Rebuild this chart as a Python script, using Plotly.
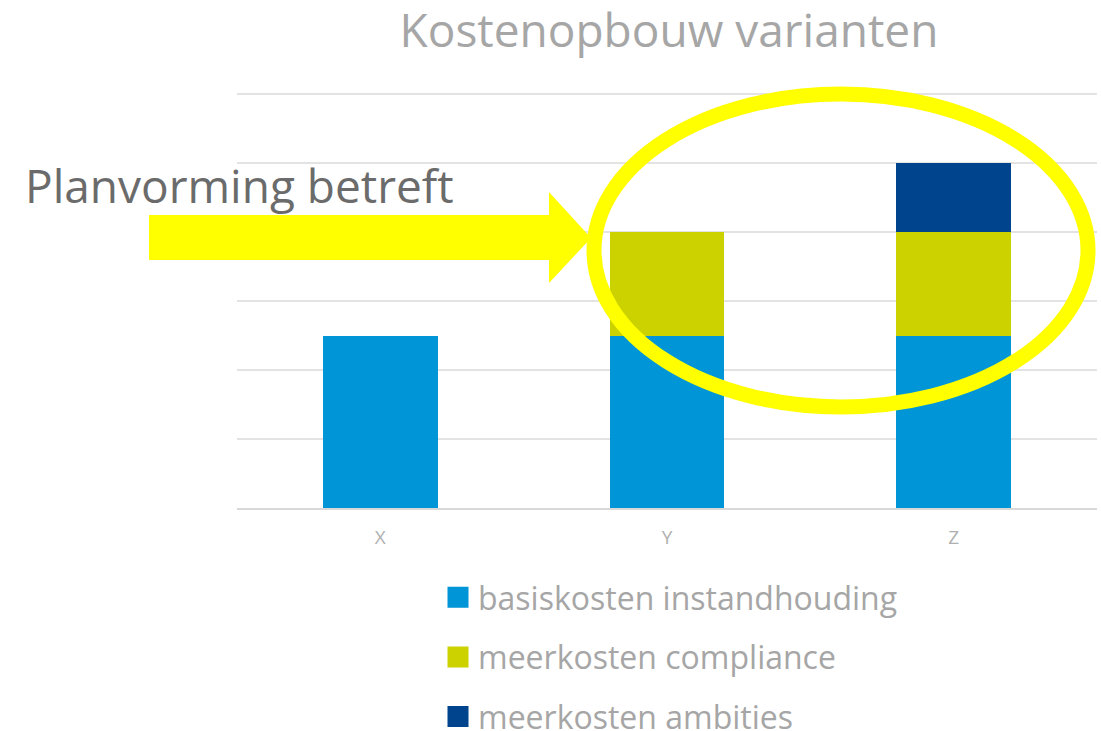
import plotly.graph_objects as go

categories = ["X", "Y", "Z"]
series_names = ["basiskosten instandhouding", "meerkosten compliance", "meerkosten ambities"]
basis = [2.5, 2.5, 2.5]
compliance = [None, 1.5, 1.5]
ambities = [None, None, 1.0]
series_values = [basis, compliance, ambities]
colors = ["#0095d6", "#ccd200", "#00448e"]

title_text = "Kostenopbouw varianten"
note_text = "Planvorming betreft"

W, H = 1101, 731
L, R, T, B = 237, 4, 90, 223
PW, PH = W - L - R, H - T - B
YMAX = 6 * PH / (H - B - 94)


def px(x):
    return (x - L) / PW


def py(y):
    return (H - B - y) / PH


fig = go.Figure()
for name, vals, col in zip(series_names, series_values, colors):
    fig.add_trace(go.Bar(x=categories, y=vals, name=name, marker_color=col,
                         marker_line_width=0, showlegend=False))
# legend entries
for name, col in zip(series_names, colors):
    fig.add_trace(go.Scatter(x=[None], y=[None], mode="markers", name=name, legendgroup=name,
                             marker=dict(symbol="square", size=16, color=col,
                                         line=dict(color=col, width=5))))

# arrow
pts = [(149, 215), (549, 215), (549, 192), (591, 238), (549, 283), (549, 260), (149, 260)]
path = "M " + " L ".join(f"{px(x):.5f},{py(y):.5f}" for x, y in pts) + " Z"
fig.add_shape(type="path", path=path, xref="paper", yref="paper",
              fillcolor="#ffff00", line=dict(width=0), layer="above")
# ellipse
fig.add_shape(type="circle", xref="paper", yref="paper",
              x0=px(594), x1=px(1088), y0=py(407), y1=py(94),
              line=dict(color="#ffff00", width=15), layer="above")

fig.add_annotation(text=note_text, xref="paper", yref="paper", x=px(23), y=py(185),
                   xanchor="left", yanchor="middle", showarrow=False,
                   font=dict(family="Open Sans", size=46, color="#6b6b6b"))

fig.update_layout(
    width=W, height=H,
    margin=dict(l=L, r=R, t=T, b=B, autoexpand=False),
    paper_bgcolor="white", plot_bgcolor="white",
    barmode="stack", bargap=0.6,
    title=dict(text=title_text, x=669 / W, xanchor="center", y=1 - 31 / H, yanchor="middle",
               font=dict(family="Open Sans", size=46, color="#a6a6a6")),
    legend=dict(orientation="v", x=px(438), xanchor="left", y=py(570), yanchor="top",
                traceorder="grouped", tracegroupgap=15,
                font=dict(family="Open Sans", size=32, color="#a6a6a6")),
    xaxis=dict(showgrid=False, showline=True, linecolor="#d9d9d9", linewidth=2,
               ticks="", ticklabelstandoff=11,
               tickfont=dict(family="Open Sans", size=19, color="#b0b0b0")),
    yaxis=dict(range=[0, YMAX], dtick=1, showgrid=True, gridcolor="#e3e3e3", gridwidth=2,
               showticklabels=False, zeroline=False, showline=False),
)

fig.write_html("out.html", config={"displayModeBar": False},
               post_script="document.body.style.margin='0px';")
